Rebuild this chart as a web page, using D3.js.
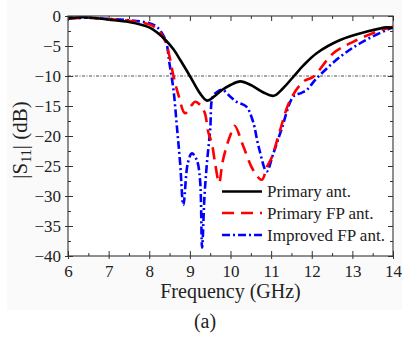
<!DOCTYPE html>
<html>
<head>
<meta charset="utf-8">
<script src="https://cdn.jsdelivr.net/npm/d3@7"></script>
<style>
  html, body { margin: 0; padding: 0; background: #ffffff; }
  svg { display: block; }
  text { font-family: "Liberation Serif", "Times New Roman", serif; fill: #222; }
</style>
</head>
<body>
<svg id="chart" width="402" height="337"></svg>
<script>
// ---------------- data ----------------
const primaryFreq = [6, 6.4, 7, 7.5, 8, 8.2, 8.4, 8.6, 8.76, 9.0, 9.25, 9.42, 9.6, 9.8, 10.0, 10.24, 10.5, 10.8, 11.06, 11.3, 11.55, 11.8, 12.12, 12.7, 13.36, 13.85, 14];
const primaryS11  = [-0.4, -0.2, -0.6, -1.0, -1.9, -2.8, -4.0, -5.6, -7.3, -10.0, -12.9, -14.1, -13.4, -12.3, -11.5, -10.9, -11.5, -12.7, -13.3, -12.0, -10.1, -8.2, -6.2, -4.0, -2.6, -1.9, -2.0];

const fpFreq = [6, 6.5, 7, 7.5, 8, 8.2, 8.4, 8.5, 8.6, 8.72, 8.88, 9.05, 9.13, 9.25, 9.37, 9.45, 9.54, 9.62, 9.72, 9.8, 9.9, 10.0, 10.1, 10.32, 10.56, 10.77, 10.9, 11.02, 11.2, 11.47, 11.8, 12.04, 12.53, 13.02, 13.68, 14];
const fpS11  = [-0.4, -0.3, -0.5, -0.8, -1.4, -2.2, -4.3, -6.8, -10.1, -13.2, -16.2, -14.8, -14.3, -14.8, -16.2, -19.3, -21.2, -24.5, -27.8, -24.5, -21.8, -19.8, -18.3, -21.8, -25.7, -27.3, -25.1, -23.5, -19.5, -14.0, -10.9, -10.1, -6.2, -4.3, -2.4, -1.8];

const impFreq = [6, 6.5, 7, 7.5, 8, 8.2, 8.4, 8.5, 8.6, 8.68, 8.76, 8.84, 8.95, 9.05, 9.17, 9.25, 9.3, 9.36, 9.42, 9.5, 9.56, 9.66, 9.8, 9.99, 10.15, 10.39, 10.55, 10.7, 10.89, 11.05, 11.25, 11.55, 11.75, 11.88, 12.12, 12.7, 13.2, 13.85, 14];
const impS11  = [-0.4, -0.3, -0.5, -0.7, -1.2, -1.9, -4.0, -8.0, -12.5, -18.4, -24.5, -31.5, -24.5, -22.9, -24.0, -27.3, -38.6, -30.0, -24.5, -19.0, -13.5, -12.7, -12.3, -13.4, -14.3, -15.1, -17.5, -22.0, -25.9, -23.0, -19.0, -13.4, -12.8, -12.3, -10.4, -6.8, -4.5, -2.3, -1.9];

const seriesNames = ["Primary ant.", "Primary FP ant.", "Improved FP ant."];
const xTickLabels = [6, 7, 8, 9, 10, 11, 12, 13, 14];
const yTickLabels = [0, -5, -10, -15, -20, -25, -30, -35, -40];
const refLevel = -10;

// ---------------- layout ----------------
const svg = d3.select("#chart");
const L = 68, R = 393, T = 16, B = 256;

svg.append("rect").attr("x", 7).attr("y", 0).attr("width", 395).attr("height", 310).attr("fill", "#fafafa");

const x = d3.scaleLinear().domain([6, 14]).range([L, R]);
const y = d3.scaleLinear().domain([-40, 0]).range([B, T]);

const xMinor = d3.range(6.5, 14, 1);
const yMinor = d3.range(-37.5, 0, 5);
const axisColor = "#333";

svg.append("rect").attr("x", L).attr("y", T).attr("width", R - L).attr("height", B - T)
  .attr("fill", "#fff").attr("stroke", "none");

// reference line
svg.append("line")
  .attr("x1", x(6)).attr("x2", x(14)).attr("y1", y(refLevel)).attr("y2", y(refLevel))
  .attr("stroke", "#222").attr("stroke-width", 0.8).attr("stroke-dasharray", "3,1.5,1,1.5");

// curves
const line = d3.line().x(d => x(d[0])).y(d => y(d[1])).curve(d3.curveCatmullRom.alpha(0.5));
const series = [
  { name: seriesNames[0], f: primaryFreq, v: primaryS11, color: "#000000", dash: null, w: 2.6 },
  { name: seriesNames[1], f: fpFreq, v: fpS11, color: "#ff0000", dash: "12,7", w: 2.6 },
  { name: seriesNames[2], f: impFreq, v: impS11, color: "#0000ff", dash: "8,3,2,3", w: 2.6 }
];
svg.append("clipPath").attr("id", "clip").append("rect")
  .attr("x", L).attr("y", T - 2).attr("width", R - L).attr("height", B - T + 4);
const g = svg.append("g").attr("clip-path", "url(#clip)");
[series[2], series[1], series[0]].forEach(s => {
  g.append("path")
    .datum(s.f.map((f, i) => [f, s.v[i]]))
    .attr("d", line)
    .attr("fill", "none")
    .attr("stroke", s.color)
    .attr("stroke-width", s.w)
    .attr("stroke-linejoin", "round")
    .attr("stroke-dasharray", s.dash);
});

// axes
function styleAxis(sel) {
  sel.select(".domain").remove();
  sel.selectAll(".tick line").attr("stroke", axisColor).attr("stroke-width", 1);
  sel.selectAll("text").style("font-size", "17px").attr("fill", "#222");
}
svg.append("g").attr("transform", `translate(0,${B})`)
  .call(d3.axisBottom(x).tickValues(xTickLabels).tickSizeInner(-5).tickSizeOuter(0).tickPadding(9).tickFormat(d3.format("d")))
  .call(styleAxis);
svg.append("g").attr("transform", `translate(0,${B})`)
  .call(d3.axisBottom(x).tickValues(xTickLabels).tickSize(3).tickFormat(""))
  .call(styleAxis);
svg.append("g").attr("transform", `translate(0,${B})`)
  .call(d3.axisBottom(x).tickValues(xMinor).tickSize(-3).tickFormat(""))
  .call(styleAxis);
svg.append("g").attr("transform", `translate(0,${T})`)
  .call(d3.axisTop(x).tickValues(xTickLabels).tickSize(-5).tickFormat(""))
  .call(styleAxis);
svg.append("g").attr("transform", `translate(0,${T})`)
  .call(d3.axisTop(x).tickValues(xMinor).tickSize(-3).tickFormat(""))
  .call(styleAxis);
svg.append("g").attr("transform", `translate(${L},0)`)
  .call(d3.axisLeft(y).tickValues(yTickLabels).tickSizeInner(-5).tickSizeOuter(0).tickPadding(7).tickFormat(d3.format("d")))
  .call(styleAxis);
svg.append("g").attr("transform", `translate(${L},0)`)
  .call(d3.axisLeft(y).tickValues(yTickLabels).tickSize(3).tickFormat(""))
  .call(styleAxis);
svg.append("g").attr("transform", `translate(${L},0)`)
  .call(d3.axisLeft(y).tickValues(yMinor).tickSize(-3).tickFormat(""))
  .call(styleAxis);
svg.append("g").attr("transform", `translate(${R},0)`)
  .call(d3.axisRight(y).tickValues(yTickLabels).tickSize(-5).tickFormat(""))
  .call(styleAxis);
svg.append("g").attr("transform", `translate(${R},0)`)
  .call(d3.axisRight(y).tickValues(yMinor).tickSize(-3).tickFormat(""))
  .call(styleAxis);

// frame
svg.append("rect").attr("x", L).attr("y", T).attr("width", R - L).attr("height", B - T)
  .attr("fill", "none").attr("stroke", axisColor).attr("stroke-width", 1.1);

// axis titles
svg.append("text").attr("x", (L + R) / 2).attr("y", 298).attr("text-anchor", "middle")
  .style("font-size", "20px").text("Frequency (GHz)");

const yl = svg.append("text")
  .attr("transform", `translate(27,140) rotate(-90)`)
  .attr("text-anchor", "middle").style("font-size", "21px");
yl.append("tspan").text("|S");
yl.append("tspan").attr("dy", 4).style("font-size", "14px").text("11");
yl.append("tspan").attr("dy", -4).text("| (dB)");

svg.append("text").attr("x", 205).attr("y", 328).attr("text-anchor", "middle")
  .style("font-size", "20px").text("(a)");

// legend
const legY = [191.5, 213, 235];
series.forEach((s, i) => {
  svg.append("line").attr("x1", 222).attr("x2", 262).attr("y1", legY[i]).attr("y2", legY[i])
    .attr("stroke", s.color).attr("stroke-width", s.w).attr("stroke-dasharray", s.dash);
  svg.append("text").attr("x", 267).attr("y", legY[i]).attr("dy", "0.35em")
    .style("font-size", "17px").text(s.name);
});
</script>
</body>
</html>
